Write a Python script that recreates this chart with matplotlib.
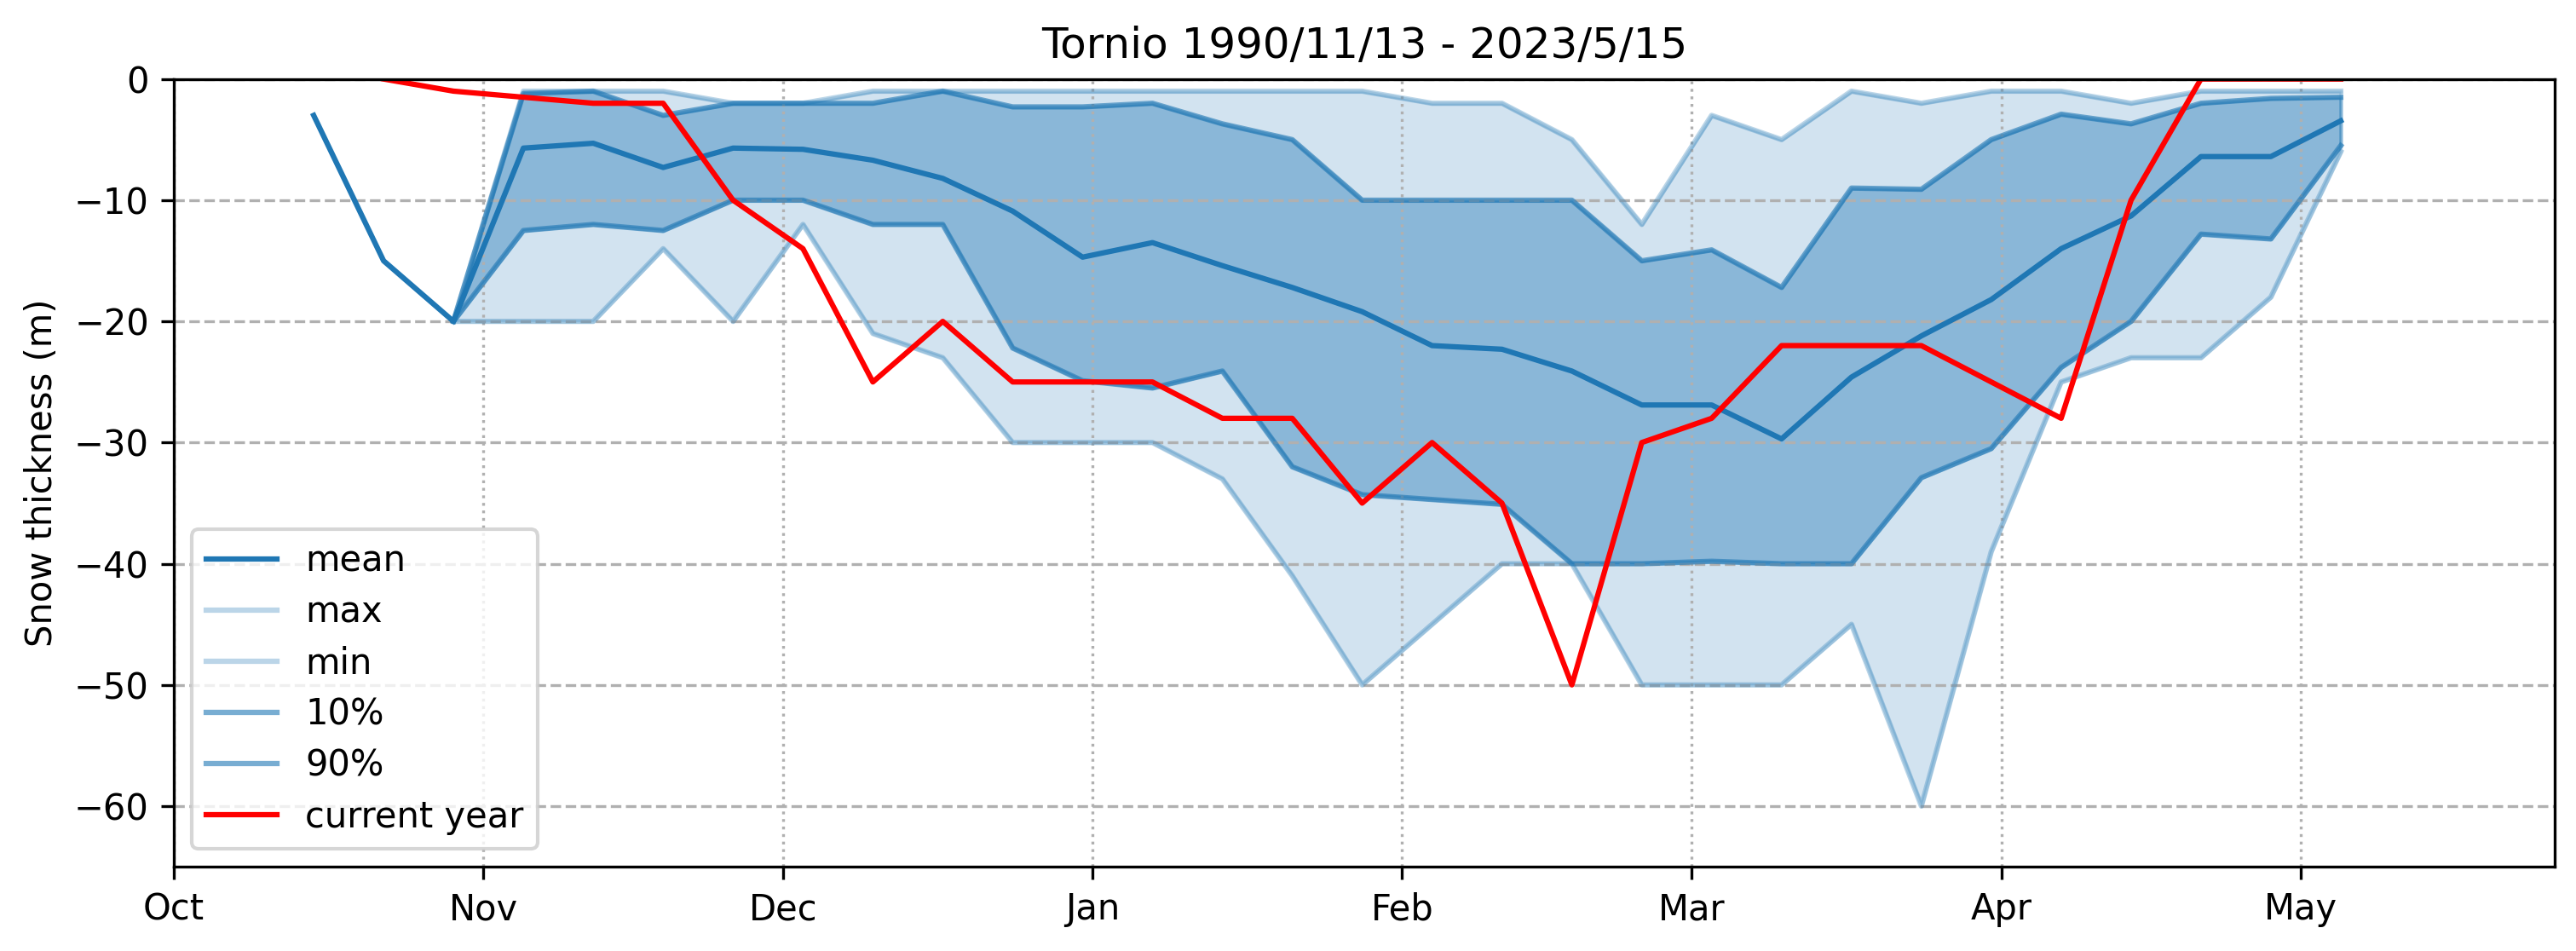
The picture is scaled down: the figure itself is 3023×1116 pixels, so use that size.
import matplotlib
matplotlib.use("Agg")
import matplotlib.pyplot as plt
import matplotlib.dates as mdates
import numpy as np
import pandas as pd

# weekly samples, Oct 15 -> May 5 (leap-year season so Feb has 29 days)
dates = pd.date_range("1999-10-15", periods=30, freq="7D")

mean = [-3, -15, -20, -5.7, -5.3, -7.3, -5.7, -5.8, -6.7, -8.2,
        -10.9, -14.7, -13.5, -15.4, -17.2, -19.2, -22.0, -22.3, -24.1, -26.9,
        -26.9, -29.7, -24.6, -21.2, -18.2, -14.0, -11.3, -6.4, -6.4, -3.45]

# statistics start at the third week
max_v = [-20, -1, -1, -1, -2, -2, -1, -1, -1, -1,
         -1, -1, -1, -1, -2, -2, -5, -12, -3, -5,
         -1, -2, -1, -1, -2, -1, -1, -1]
p90 = [-20, -1.2, -1, -3, -2, -2, -2, -1, -2.3, -2.3,
       -2, -3.7, -5, -10, -10, -10, -10, -15, -14.1, -17.2,
       -9, -9.1, -5, -2.9, -3.7, -2, -1.6, -1.5]
p10 = [-20, -12.5, -12, -12.5, -10, -10, -12, -12, -22.2, -24.9,
       -25.5, -24.1, -32, -34.3, -34.7, -35.1, -40, -40, -39.8, -40,
       -40, -32.9, -30.5, -23.8, -20, -12.8, -13.2, -5.5]
min_v = [-20, -20, -20, -14, -20, -12, -21, -23, -30, -30,
         -30, -33, -41, -50, -45, -40, -40, -50, -50, -50,
         -45, -60, -39, -25, -23, -23, -18, -6]

# current season starts at the second week
current = [0, -1, -1.5, -2, -2, -10, -14, -25, -20, -25,
           -25, -25, -28, -28, -35, -30, -35, -50, -30, -28,
           -22, -22, -22, -25, -28, -10, 0, 0, 0]

stat_dates = dates[2:]
cur_dates = dates[1:]

fig = plt.figure(figsize=(3023 / 300, 1116 / 300), dpi=300)
ax = fig.add_axes([0.0675, 0.0887, 0.9242, 0.8282])

c0 = "#1f77b4"
ax.fill_between(stat_dates, min_v, max_v, color=c0, alpha=0.2)
ax.fill_between(stat_dates, p10, p90, color=c0, alpha=0.4)

ax.plot(dates, mean, color=c0, linewidth=1.5, label="mean")
ax.plot(stat_dates, max_v, color=c0, alpha=0.3, linewidth=1.5, label="max")
ax.plot(stat_dates, min_v, color=c0, alpha=0.3, linewidth=1.5, label="min")
ax.plot(stat_dates, p10, color=c0, alpha=0.6, linewidth=1.5, label="10%")
ax.plot(stat_dates, p90, color=c0, alpha=0.6, linewidth=1.5, label="90%")
ax.plot(cur_dates, current, color="red", linewidth=1.5, label="current year")

ax.set_xlim(pd.Timestamp("1999-10-01"), pd.Timestamp("2000-05-26 10:00"))
ax.set_ylim(-65, 0)
ax.xaxis.set_major_locator(mdates.MonthLocator())
ax.xaxis.set_major_formatter(mdates.DateFormatter("%b"))

ax.grid(axis="y", linestyle="--", color="#b0b0b0", linewidth=0.8)
ax.grid(axis="x", linestyle=":", color="#b0b0b0", linewidth=0.8)

ax.set_title("Tornio 1990/11/13 - 2023/5/15")
ax.set_ylabel("Snow thickness (m)")
ax.legend(loc="lower left", labelspacing=0.43)

fig.savefig("out.png", dpi=300)
